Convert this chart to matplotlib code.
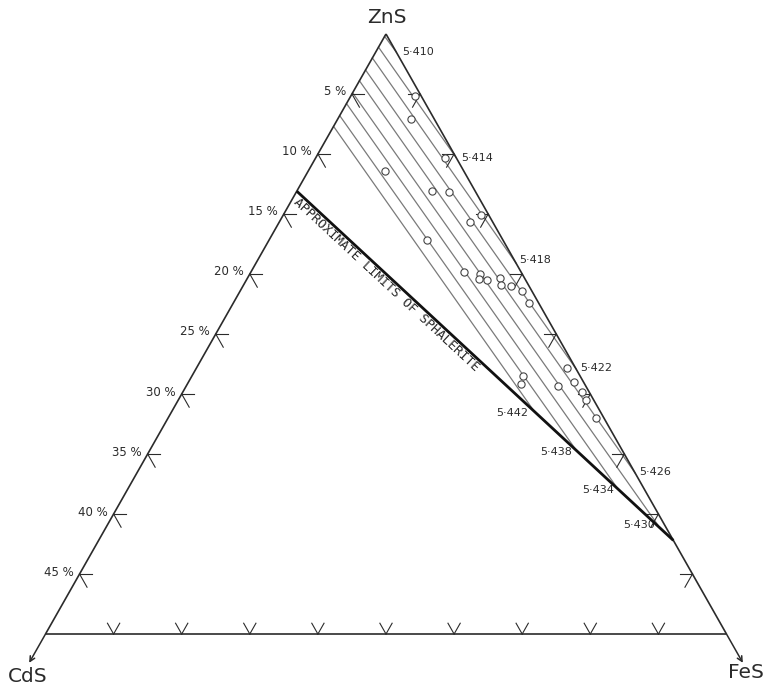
import numpy as np
import matplotlib
matplotlib.use("Agg")
import matplotlib.pyplot as plt

# ---------------- data (mol %) ----------------
# corner labels
corners = ["ZnS", "CdS", "FeS"]

# tick values along the three sides of the drawn (50 % ZnS) triangle
left_ticks = [5, 10, 15, 20, 25, 30, 35, 40, 45]          # CdS % on ZnS-CdS join
left_tick_labels = ["5 %", "10 %", "15 %", "20 %", "25 %", "30 %", "35 %", "40 %", "45 %"]
right_ticks = [5, 10, 15, 20, 25, 30, 35, 40, 45]         # FeS % on ZnS-FeS join
bottom_ticks = [5, 10, 15, 20, 25, 30, 35, 40, 45]        # FeS % along 50 % ZnS line

# lattice-parameter contours (cell edge, Angstrom)
lattice_labels = ["5·410", "5·414", "5·418", "5·422", "5·426",
                  "5·430", "5·434", "5·438", "5·442"]
start_cds = [0.2, 1.1, 2.0, 3.0, 3.9, 4.9, 5.8, 6.8, 7.7]     # on ZnS-CdS join
end_fes = [1.5, 10.3, 19.1, 27.9, 36.6, 40.4, 35.8, 31.1, 26.5]
end_cds = [0.0, 0.0, 0.0, 0.0, 0.0, 0.5, 1.95, 3.4, 4.85]

# approximate limit of sphalerite
limit_start_cds = 13.1
limit_end_fes = 42.2
limit_text = "APPROXIMATE LIMITS OF SPHALERITE"

# analysed sphalerites
pts_fes = [4.7, 5.4, 9.5, 5.6, 9.9, 11.2, 14.5, 14.0, 11.6, 15.6, 16.9, 17.0, 17.7,
           18.5, 18.9, 19.7, 20.7, 21.7, 27.2, 24.3, 24.5, 27.3, 28.3, 29.3, 29.9, 31.4]
pts_cds = [0.5, 1.7, 0.8, 5.8, 3.2, 2.0, 0.6, 1.7, 5.6, 4.2, 3.1, 3.4, 2.8,
           1.8, 2.0, 1.3, 0.7, 0.7, 0.6, 4.2, 4.7, 2.0, 0.7, 0.5, 0.6, 0.6]

# ---------------- projection ----------------
S3 = np.sqrt(3) / 2


def proj(F, C):
    F = np.asarray(F, float)
    C = np.asarray(C, float)
    Z = 100.0 - F - C
    return F + Z / 2.0, Z * S3


INK = "#2b2b2b"
HATCH = "#7a7a7a"

fig = plt.figure(figsize=(7.67, 6.88), dpi=100)
ax = fig.add_axes([0, 0, 1, 1])
ax.set_xlim(21.659, 77.974)
ax.set_ylim(39.406, 89.054)
ax.axis("off")

# ---- triangle sides ----
for (f0, c0), (f1, c1) in [((0, 0), (0, 50)), ((0, 0), (50, 0)), ((0, 50), (50, 0))]:
    x, y = proj([f0, f1], [c0, c1])
    ax.plot(x, y, color=INK, lw=1.2, solid_capstyle="butt", zorder=3)

# arrows to the pure end-members
for (f0, c0), (f1, c1) in [((0, 50), (0, 52.4)), ((50, 0), (52.4, 0))]:
    ax.annotate("", xy=proj(f1, c1), xytext=proj(f0, c0),
                arrowprops=dict(arrowstyle="->", lw=1.1, color=INK,
                                mutation_scale=9, shrinkA=0, shrinkB=0))

# corner labels
ax.annotate(corners[0], xy=proj(0, 0), xytext=(1, 16), textcoords="offset pixels",
            ha="center", va="center", fontsize=14.5, color=INK)
ax.annotate(corners[1], xy=proj(0, 50), xytext=(-18, -42), textcoords="offset pixels",
            ha="center", va="center", fontsize=14.5, color=INK)
ax.annotate(corners[2], xy=proj(50, 0), xytext=(19, -38), textcoords="offset pixels",
            ha="center", va="center", fontsize=14.5, color=INK)

# ---- tick marks ----
d = 0.9
for c, lab in zip(left_ticks, left_tick_labels):
    for (f1, c1) in [(d, c - d), (1.1, c)]:
        x, y = proj([0, f1], [c, c1])
        ax.plot(x, y, color=INK, lw=0.8, zorder=3)
    ax.annotate(lab, xy=proj(0, c), xytext=(-6, 2), textcoords="offset pixels",
                ha="right", va="center", fontsize=8.5, color=INK)

for f in right_ticks:
    for (f1, c1) in [(f - d, d), (f, 1.1)]:
        x, y = proj([f, f1], [0, c1])
        ax.plot(x, y, color=INK, lw=0.8, zorder=3)

for f in bottom_ticks:
    c = 50 - f
    for (f1, c1) in [(f, c - d), (f - d, c)]:
        x, y = proj([f, f1], [c, c1])
        ax.plot(x, y, color=INK, lw=0.8, zorder=3)

# ---- lattice contours ----
lab_offsets = [(6, 0, "left"), (5, 0, "left"), (3, 3, "left"), (4, 1, "left"),
               (4, 1, "left"), (-3, 0, "right"), (-2, -3, "right"),
               (-3, -4, "right"), (-5, -3, "right")]
for lab, c0, f1, c1, (ox, oy, ha) in zip(lattice_labels, start_cds, end_fes, end_cds, lab_offsets):
    x, y = proj([0, f1], [c0, c1])
    ax.plot(x, y, color=HATCH, lw=0.9, zorder=2)
    ax.annotate(lab, xy=proj(f1, c1), xytext=(ox, oy), textcoords="offset pixels",
                ha=ha, va="center", fontsize=8, color=INK)

# ---- limit of sphalerite ----
lx, ly = proj([0, limit_end_fes], [limit_start_cds, 0])
ax.plot(lx, ly, color="#111111", lw=2.0, zorder=4, solid_capstyle="butt")
p0 = ax.transData.transform((lx[0], ly[0]))
p1 = ax.transData.transform((lx[1], ly[1]))
ang = np.degrees(np.arctan2(p1[1] - p0[1], p1[0] - p0[0]))
t = 0.252
tx = lx[0] + t * (lx[1] - lx[0])
ty = ly[0] + t * (ly[1] - ly[0])
ax.annotate(limit_text, xy=(tx, ty), xytext=(-5.6, -6.0), textcoords="offset pixels",
            rotation=ang, rotation_mode="anchor", ha="center", va="center",
            fontsize=9.3, family="DejaVu Sans Mono", color=INK)

# ---- analysed samples ----
px, py = proj(pts_fes, pts_cds)
ax.plot(px, py, linestyle="none", marker="o", markersize=5.2, markerfacecolor="white",
        markeredgecolor="#444444", markeredgewidth=0.8, zorder=5)

fig.savefig("out.png", dpi=100, facecolor="white")
